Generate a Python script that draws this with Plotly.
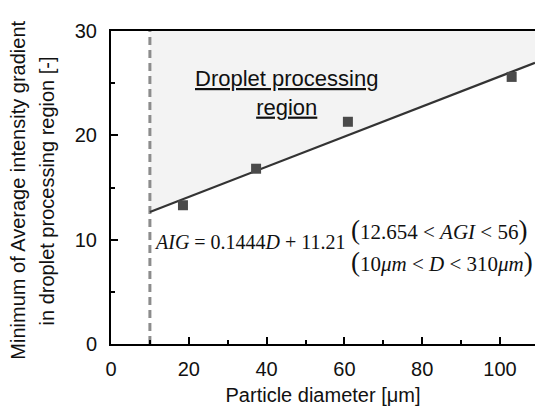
import plotly.graph_objects as go

# Data
diameter = [18.5, 37.3, 60.9, 103.0]
min_aig = [13.3, 16.8, 21.3, 25.6]
slope = 0.1444
intercept = 11.21
d_limit = 10
x_max = 109
y_max = 30

fit_x = [d_limit, x_max]
fit_y = [slope * v + intercept for v in fit_x]

fig = go.Figure()

# Shaded processing region
fig.add_trace(go.Scatter(
    x=[fit_x[0], fit_x[1], fit_x[1], fit_x[0], fit_x[0]],
    y=[fit_y[0], fit_y[1], y_max, y_max, fit_y[0]],
    fill="toself", fillcolor="#f3f3f3", mode="none",
    hoverinfo="skip", showlegend=False))

# Vertical dashed limit
fig.add_trace(go.Scatter(
    x=[d_limit, d_limit], y=[0, y_max], mode="lines",
    line=dict(color="#8c8c8c", width=3, dash="8px,5px"), showlegend=False))

# Fit line
fig.add_trace(go.Scatter(
    x=fit_x, y=fit_y, mode="lines",
    line=dict(color="#333333", width=2.2), showlegend=False))

# Data markers
fig.add_trace(go.Scatter(
    x=diameter, y=min_aig, mode="markers",
    marker=dict(symbol="square", size=10, color="#4a4a4a"), showlegend=False))

sans = "Liberation Sans, Arial"
axis_font = dict(family=sans, size=20, color="#111111")

fig.update_xaxes(
    range=[0, x_max], tickmode="array", tickvals=[0, 20, 40, 60, 80, 100],
    ticks="inside", ticklen=7, tickwidth=1.5, tickcolor="black",
    minor=dict(tickvals=[10, 30, 50, 70, 90], ticks="inside", ticklen=4, tickwidth=1.5, tickcolor="black"),
    showline=True, linecolor="black", linewidth=2, mirror=True,
    showgrid=False, zeroline=False, tickfont=axis_font, ticklabelstandoff=6,
    title=dict(text="Particle diameter [μm]", font=dict(family=sans, size=20, color="#111111"), standoff=9))

fig.update_yaxes(
    range=[0, y_max], tickmode="array", tickvals=[0, 10, 20, 30],
    ticks="inside", ticklen=7, tickwidth=1.5, tickcolor="black",
    minor=dict(tickvals=[5, 15, 25], ticks="inside", ticklen=4, tickwidth=1.5, tickcolor="black"),
    showline=True, linecolor="black", linewidth=2,
    showgrid=False, zeroline=False, tickfont=axis_font, ticklabelstandoff=8)

# y-axis title (two lines)
ytitle_font = dict(family=sans, size=20, color="#111111")
fig.add_annotation(x=-0.25, y=0.49, xref="paper", yref="paper", textangle=-90,
                   text="Minimum of Average intensity gradient", showarrow=False, font=ytitle_font)
fig.add_annotation(x=-0.182, y=0.49, xref="paper", yref="paper", textangle=-90,
                   text="in droplet processing region [-]", showarrow=False, font=ytitle_font)

fig.add_annotation(
    x=45, y=24.1, xref="x", yref="y",
    text="<u>Droplet processing</u><br><u>region</u>", showarrow=False,
    font=dict(family=sans, size=22, color="#111111"), align="center")

serif_eq = dict(family="Liberation Serif, Times New Roman", size=20, color="#111111")
serif = dict(family="Liberation Serif, Times New Roman", size=21, color="#111111")
big = '<span style="font-size:27px">%s</span>'
fig.add_annotation(
    x=10.5, y=9.8, xref="x", yref="y", xanchor="left",
    text="<i>AIG</i> = 0.1444<i>D</i> + 11.21", showarrow=False, font=serif_eq)
fig.add_annotation(
    x=61.2, y=10.9, xref="x", yref="y", xanchor="left",
    text=big % "(" + "12.654 &lt; <i>AGI</i> &lt; 56" + big % ")", showarrow=False, font=serif)
fig.add_annotation(
    x=61.2, y=7.9, xref="x", yref="y", xanchor="left",
    text=big % "(" + "10<i>μm</i> &lt; <i>D</i> &lt; 310<i>μm</i>" + big % ")", showarrow=False, font=serif)

fig.update_layout(
    width=535, height=412,
    margin=dict(l=111, r=0, t=31, b=68),
    plot_bgcolor="white", paper_bgcolor="white")

fig.write_html("out.html")
